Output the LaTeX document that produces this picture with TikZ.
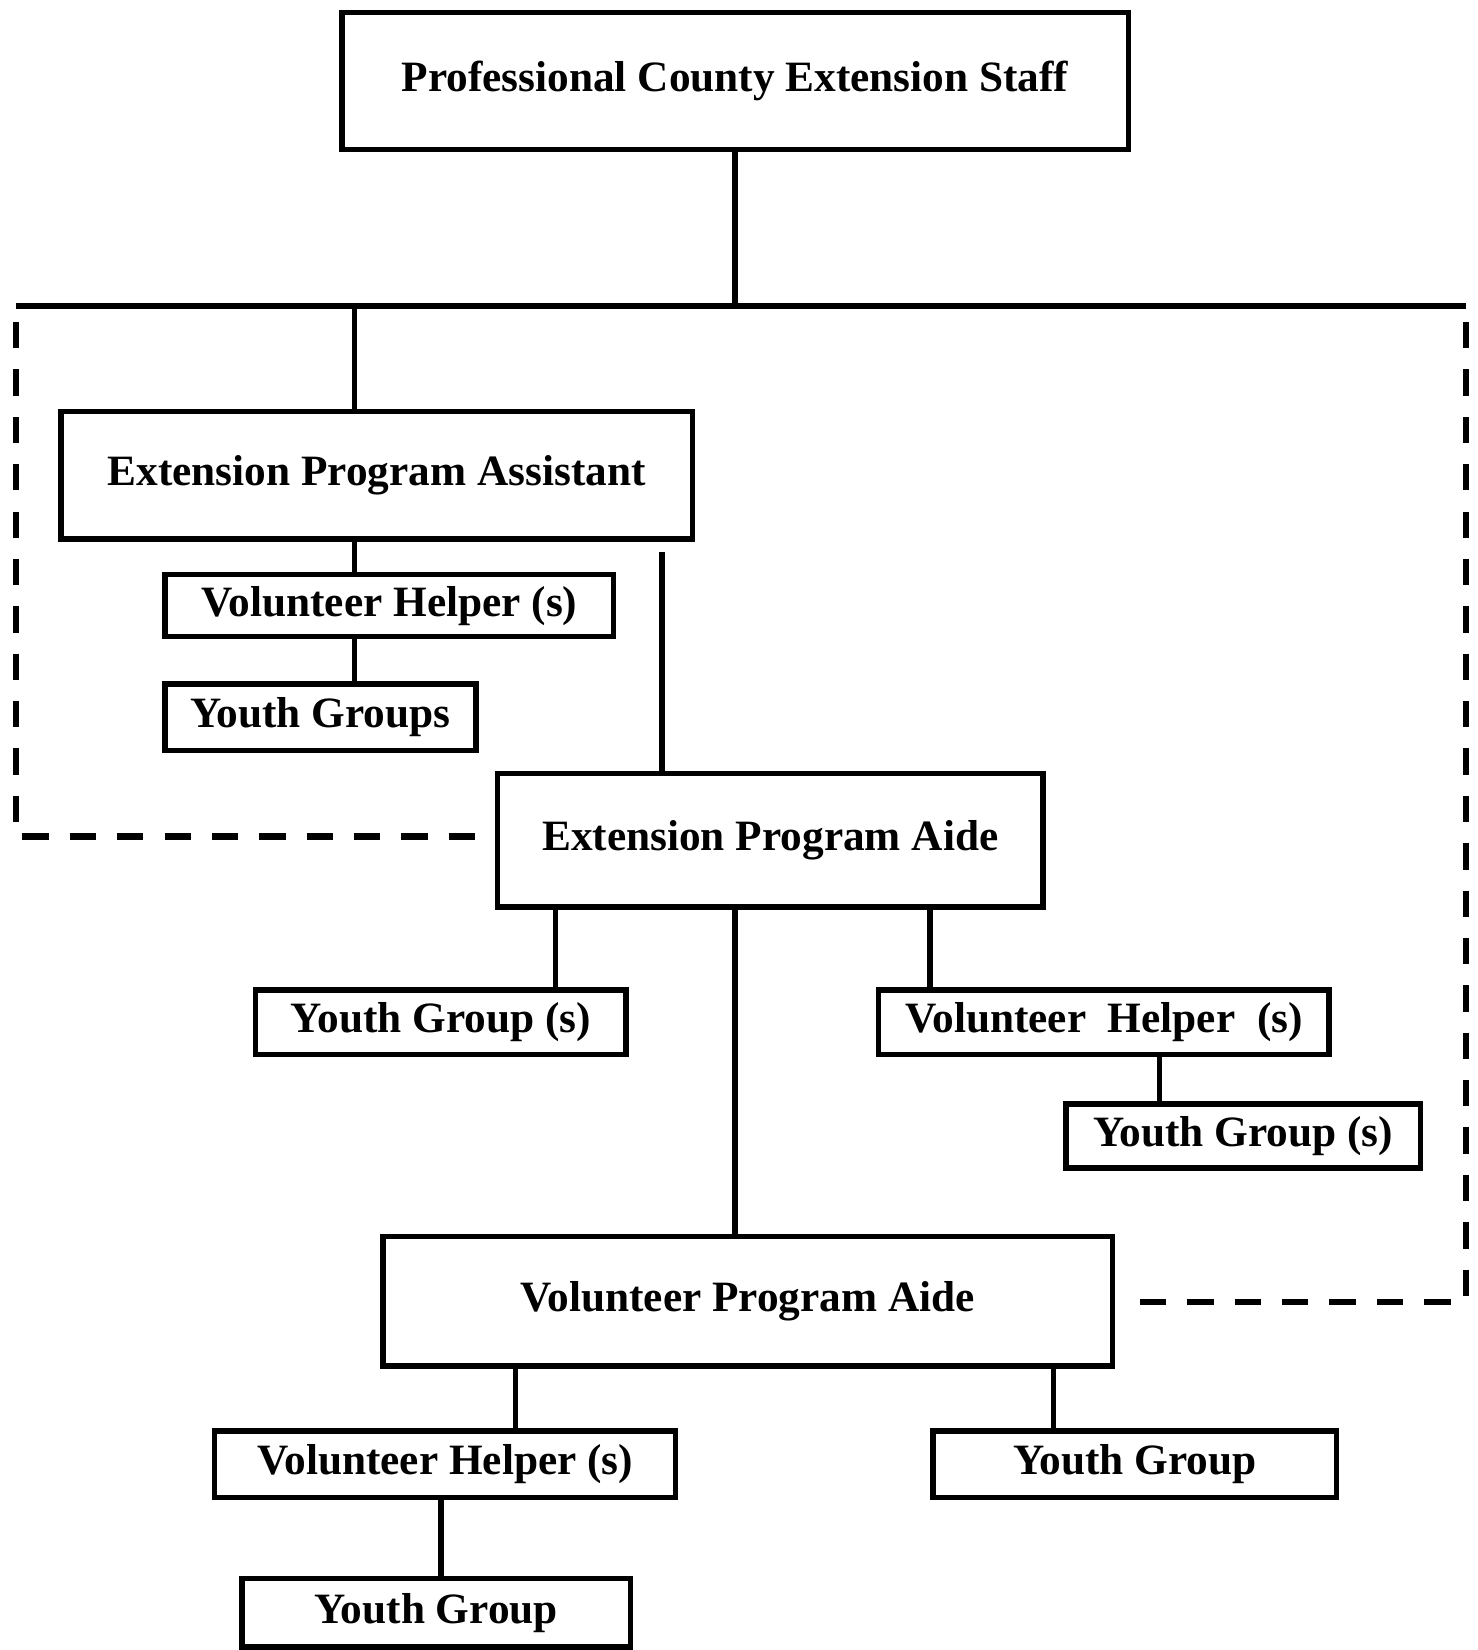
\documentclass[tikz,border=0pt]{standalone}
\usepackage{fontspec}
\setmainfont{Liberation Serif}
\usetikzlibrary{calc}
\usetikzlibrary{positioning}

\tikzset{
  chart/.style={draw,line width=1.5pt,inner sep=2pt,font=\fontsize{11.7}{14}\selectfont\bfseries},
  link/.style={line width=1.5pt},
  zone/.style={line width=1.7pt,dash pattern=on 0.25cm off 0.20cm},
}

\begin{document}
\begin{tikzpicture}[x=0.01cm,y=-0.01cm]
\useasboundingbox (0,0) rectangle (1404,1568);

% boxes
\node[chart,minimum width=7.47cm,minimum height=1.30cm] (staff) at (698.5,77) {Professional County Extension Staff};
\node[chart,minimum width=6.00cm,minimum height=1.21cm] (epa) at (358,451.5) {Extension Program Assistant};
\node[chart,minimum width=4.26cm,minimum height=0.59cm] (help a) at (370,575.5) {Volunteer Helper (s)};
\node[chart,minimum width=2.95cm,minimum height=0.63cm] (youth a) at (304.5,681.5) {Youth Groups};
\node[chart,minimum width=5.18cm,minimum height=1.27cm] (aide) at (732,798.5) {Extension Program Aide};
\node[chart,minimum width=3.52cm,minimum height=0.61cm] (youth b) at (419,971.5) {Youth Group (s)};
\node[chart,minimum width=4.28cm,minimum height=0.61cm] (help b) at (1049,971.5) {Volunteer\ \ Helper\ \ (s)};
\node[chart,minimum width=3.37cm,minimum height=0.61cm] (youth c) at (1181.5,1079.5) {Youth Group (s)};
\node[chart,minimum width=6.93cm,minimum height=1.23cm] (vpa) at (710.5,1236.5) {Volunteer Program Aide};
\node[chart,minimum width=4.38cm,minimum height=0.63cm] (help c) at (423,1391.5) {Volunteer Helper (s)};
\node[chart,minimum width=3.83cm,minimum height=0.63cm] (youth d) at (1078.5,1391.5) {Youth Group};
\node[chart,minimum width=3.69cm,minimum height=0.65cm] (youth e) at (414.5,1532.5) {Youth Group};

% bus and drop points
\coordinate (bus w) at (15,291);
\coordinate (bus e) at (1393,291);
\coordinate (drop a) at (337,0);
\coordinate (drop b) at (629,525);
\coordinate (drop c) at (528,0);
\coordinate (drop d) at (884,0);
\coordinate (drop e) at (1102,0);
\coordinate (drop f) at (490,0);
\coordinate (drop g) at (1001,0);
\coordinate (drop h) at (419,0);
\coordinate (corner w) at (15,795);
\coordinate (corner e) at (1393,1237);

\draw[link] (bus w) -- (bus e);
\draw[link] (staff.south) -- (staff.south |- bus w);
\draw[link] (bus w -| drop a) -- (epa.north -| drop a);
\draw[link] (epa.south -| drop a) -- (help a.north -| drop a);
\draw[link] (help a.south -| drop a) -- (youth a.north -| drop a);
\draw[link] (drop b) -- (aide.north -| drop b);
\draw[link] (aide.south -| drop c) -- (youth b.north -| drop c);
\draw[link] (aide.south -| staff.south) -- (vpa.north -| staff.south);
\draw[link] (aide.south -| drop d) -- (help b.north -| drop d);
\draw[link] (help b.south -| drop e) -- (youth c.north -| drop e);
\draw[link] (vpa.south -| drop f) -- (help c.north -| drop f);
\draw[link] (vpa.south -| drop g) -- (youth d.north -| drop g);
\draw[link] (help c.south -| drop h) -- (youth e.north -| drop h);

% dashed boundaries
\draw[zone] ([yshift=-0.15cm]bus w) -- (corner w) -- ($(aide.west |- corner w)+(-18,0)$);
\draw[zone] ([yshift=-0.15cm]bus e) -- (corner e) -- ($(vpa.east |- corner e)+(18,0)$);
\end{tikzpicture}
\end{document}
